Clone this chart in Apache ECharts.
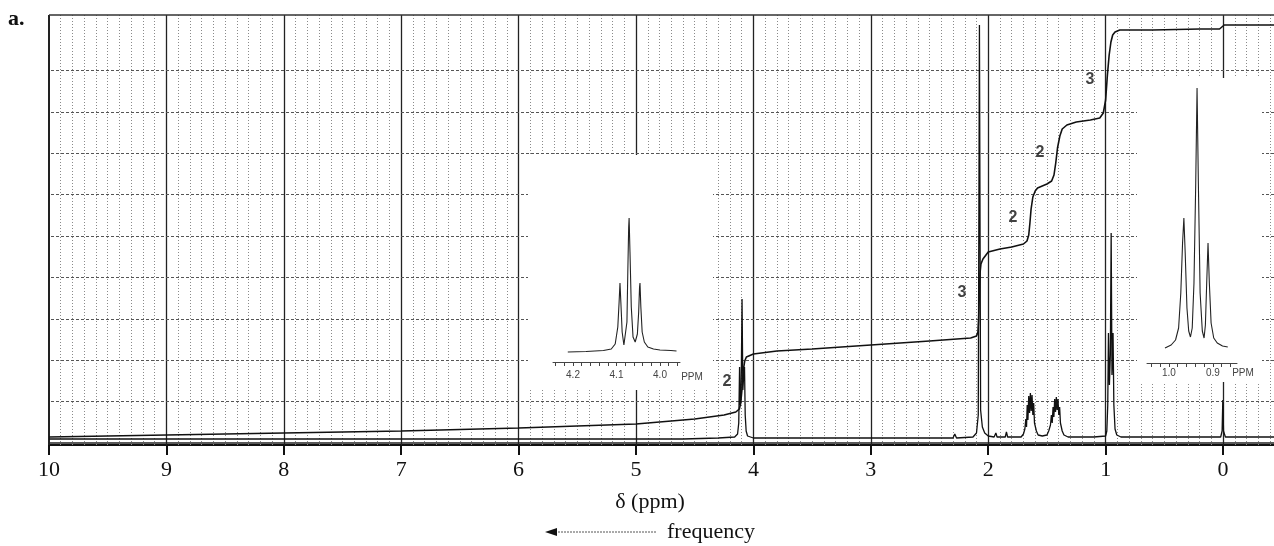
<!DOCTYPE html>
<html><head><meta charset="utf-8">
<script src="https://cdn.jsdelivr.net/npm/echarts@6/dist/echarts.min.js"></script>
<style>html,body{margin:0;padding:0;background:#fff}#c{width:1274px;height:546px}</style>
</head><body><div id="c"></div>
<script>
// ---- data (ppm, signal height) ----
const tickLabels = [10, 9, 8, 7, 6, 5, 4, 3, 2, 1, 0];

const spectrum = [
  [10.0, 6], [8.0, 6], [6.0, 6], [4.6, 6], [4.3, 7], [4.16, 8], [4.135, 11], [4.125, 22],
  [4.118, 78], [4.112, 40], [4.104, 60], [4.097, 146], [4.09, 55], [4.083, 70], [4.076, 78],
  [4.07, 30], [4.062, 14], [4.05, 9], [4.0, 7], [3.5, 7], [2.30, 7], [2.285, 11], [2.27, 7],
  [2.13, 8], [2.1, 12], [2.085, 30], [2.075, 420], [2.065, 35], [2.05, 18], [2.03, 12],
  [2.0, 9], [1.95, 8], [1.935, 12], [1.925, 8], [1.855, 8], [1.845, 13], [1.835, 8],
  [1.72, 8], [1.70, 11], [1.688, 16], [1.68, 26], [1.674, 18], [1.668, 40], [1.662, 25],
  [1.655, 49], [1.648, 32], [1.641, 52], [1.634, 34], [1.627, 50], [1.62, 30], [1.613, 42],
  [1.606, 22], [1.598, 24], [1.59, 14], [1.575, 10], [1.54, 9], [1.50, 10], [1.485, 14],
  [1.47, 20], [1.462, 30], [1.455, 22], [1.448, 38], [1.441, 28], [1.434, 46], [1.427, 33],
  [1.42, 48], [1.413, 35], [1.406, 46], [1.399, 30], [1.392, 38], [1.385, 22], [1.378, 24],
  [1.37, 14], [1.355, 10], [1.32, 8], [1.1, 8], [1.0, 9], [0.99, 14], [0.982, 40],
  [0.976, 112], [0.968, 60], [0.96, 90], [0.953, 212], [0.946, 70], [0.937, 112], [0.93, 40],
  [0.92, 16], [0.905, 10], [0.87, 8], [0.5, 8], [0.02, 8], [0.008, 14], [0.002, 45],
  [-0.004, 14], [-0.02, 8], [-0.434, 8]
];

const integral = [
  [10.0, 8], [9.0, 10], [8.0, 12], [7.0, 14], [6.0, 17], [5.0, 21], [4.5, 26], [4.25, 30],
  [4.15, 33], [4.12, 36], [4.108, 42], [4.098, 55], [4.09, 68], [4.082, 78], [4.074, 84],
  [4.06, 88], [4.0, 91], [3.8, 94], [3.5, 96], [3.0, 100], [2.5, 104], [2.15, 107], [2.1, 109],
  [2.088, 113], [2.082, 125], [2.076, 150], [2.07, 172], [2.062, 181], [2.045, 186], [2.0, 193],
  [1.9, 196], [1.8, 198], [1.7, 201], [1.67, 204], [1.655, 210], [1.645, 222], [1.635, 236],
  [1.62, 248], [1.6, 254], [1.58, 257], [1.5, 261], [1.46, 264], [1.44, 270], [1.425, 282],
  [1.41, 297], [1.39, 309], [1.37, 316], [1.33, 320], [1.25, 323], [1.13, 325], [1.05, 327],
  [1.02, 332], [1.0, 345], [0.985, 370], [0.97, 390], [0.955, 403], [0.94, 410], [0.92, 413],
  [0.88, 415], [0.6, 415], [0.2, 416], [0.03, 416], [0.01, 418], [-0.01, 420], [-0.434, 420]
];

const integralText = ['2', '3', '2', '2', '3'];
const integralTextAt = [[4.225, 63], [2.223, 152], [1.789, 227], [1.559, 292], [1.133, 365]];

// inset a: expansion of 4.07 ppm triplet
const insetA = [
  [4.212, 10], [4.17, 10.5], [4.13, 11.5], [4.112, 13], [4.103, 18], [4.097, 35], [4.094, 60],
  [4.092, 79], [4.090, 60], [4.087, 30], [4.083, 17], [4.079, 18], [4.076, 40], [4.074, 90],
  [4.072, 135], [4.071, 144], [4.069, 110], [4.066, 55], [4.062, 25], [4.057, 20], [4.052, 28],
  [4.049, 50], [4.047, 75], [4.046, 79], [4.044, 55], [4.041, 30], [4.036, 20], [4.028, 15],
  [4.015, 13], [4.0, 12], [3.975, 11.5], [3.962, 11]
];
const insetATicks = [4.2, 4.1, 4.0];

// inset b: expansion of 0.93 ppm triplet
const insetB = [
  [1.009, 15], [0.995, 18], [0.985, 23], [0.978, 35], [0.973, 70], [0.969, 120], [0.966, 145],
  [0.963, 110], [0.959, 55], [0.955, 32], [0.951, 26], [0.947, 35], [0.943, 80], [0.939, 180],
  [0.936, 275], [0.933, 180], [0.929, 70], [0.924, 32], [0.92, 25], [0.917, 38], [0.914, 80],
  [0.911, 120], [0.908, 80], [0.904, 40], [0.898, 25], [0.89, 20], [0.878, 17], [0.866, 16]
];
const insetBTicks = [1.0, 0.9];

// ---- chart-paper grid lines (style only) ----
const gridLines = [];
for (let i = -4; i <= 100; i++) {
  const v = i / 10;
  if (i % 10 === 0) {
    gridLines.push({ xAxis: v, lineStyle: { color: '#222', width: i === 100 ? 2 : 1.3, type: 'solid' } });
  } else {
    gridLines.push({ xAxis: v, lineStyle: { color: '#8a8a8a', width: 1, type: [1, 2] } });
  }
}
for (let k = 0; k <= 9; k++) {
  gridLines.push({ yAxis: 2 + 41.4 * k, lineStyle: { color: k === 0 ? '#222' : '#555', width: k === 0 ? 1.5 : 1.1, type: k === 0 ? 'solid' : [3, 2] } });
}
gridLines.push({ yAxis: 430, lineStyle: { color: '#333', width: 1.6, type: 'solid' } });

function steps(a, b, s) {
  const out = [];
  for (let v = a; v <= b + 1e-9; v += s) out.push(+v.toFixed(2));
  return out;
}

const serif = '"Liberation Serif", "DejaVu Serif", serif';
const sans = '"Liberation Sans", Arial, sans-serif';

const chart = echarts.init(document.getElementById('c'));
chart.setOption({
  animation: false,
  backgroundColor: '#fff',
  grid: [
    { left: 49, right: 0, top: 15, bottom: 101 },
    { left: 553, width: 127, top: 155, height: 207 },
    { left: 1147, width: 90, top: 78, height: 285 }
  ],
  xAxis: [
    {
      type: 'value', gridIndex: 0, min: -0.434, max: 10, inverse: true,
      axisLine: { show: true, onZero: false, lineStyle: { color: '#111', width: 2 } },
      axisTick: { show: true, customValues: tickLabels, length: 10, lineStyle: { color: '#111', width: 2 } },
      axisLabel: { show: true, customValues: tickLabels, margin: 14, fontSize: 22, fontFamily: serif, color: '#111' },
      splitLine: { show: false }
    },
    {
      type: 'value', gridIndex: 1, min: 3.954, max: 4.246, inverse: true, z: 10,
      axisLine: { show: true, onZero: false, lineStyle: { color: '#444', width: 1 } },
      axisTick: { show: true, customValues: steps(3.96, 4.24, 0.02), length: 4, lineStyle: { color: '#444' } },
      axisLabel: { show: true, customValues: insetATicks, margin: 8, fontSize: 10, fontFamily: sans, color: '#444', formatter: v => v.toFixed(1) },
      splitLine: { show: false }
    },
    {
      type: 'value', gridIndex: 2, min: 0.845, max: 1.05, inverse: true, z: 10,
      axisLine: { show: true, onZero: false, lineStyle: { color: '#444', width: 1 } },
      axisTick: { show: true, customValues: steps(0.86, 1.04, 0.02), length: 4, lineStyle: { color: '#444' } },
      axisLabel: { show: true, customValues: insetBTicks, margin: 5, fontSize: 10, fontFamily: sans, color: '#444', formatter: v => v.toFixed(1) },
      splitLine: { show: false }
    }
  ],
  yAxis: [
    { type: 'value', gridIndex: 0, min: 0, max: 430, z: 10,
      axisLine: { show: false, onZero: false },
      axisTick: { show: false }, axisLabel: { show: false }, splitLine: { show: false } },
    { type: 'value', gridIndex: 1, min: 0, max: 207, show: false },
    { type: 'value', gridIndex: 2, min: 0, max: 285, show: false }
  ],
  graphic: [
    { type: 'rect', z: 3, shape: { x: 528, y: 155, width: 185, height: 235 }, style: { fill: '#fff' } },
    { type: 'rect', z: 3, shape: { x: 1137, y: 78, width: 125, height: 304 }, style: { fill: '#fff' } },
    { type: 'text', z: 20, x: 8, y: 8, style: { text: 'a.', font: 'bold 22px ' + serif, fill: '#111' } },
    { type: 'text', z: 20, x: 650, y: 502, style: { text: 'δ (ppm)', font: '22px ' + serif, fill: '#111', align: 'center', verticalAlign: 'middle', textAlign: 'center', textVerticalAlign: 'middle' } },
    { type: 'text', z: 20, x: 667, y: 532, style: { text: 'frequency', font: '22px ' + serif, fill: '#111', align: 'left', verticalAlign: 'middle', textAlign: 'left', textVerticalAlign: 'middle' } },
    { type: 'line', z: 20, shape: { x1: 552, y1: 532, x2: 657, y2: 532 }, style: { stroke: '#555', lineWidth: 1, lineDash: [2, 1] } },
    { type: 'polygon', z: 20, shape: { points: [[545, 532], [557, 528], [557, 536]] }, style: { fill: '#111' } },
    { type: 'text', z: 20, x: 692, y: 377, style: { text: 'PPM', font: '10px ' + sans, fill: '#444', align: 'center', verticalAlign: 'middle', textAlign: 'center', textVerticalAlign: 'middle' } },
    { type: 'text', z: 20, x: 1243, y: 373, style: { text: 'PPM', font: '10px ' + sans, fill: '#444', align: 'center', verticalAlign: 'middle', textAlign: 'center', textVerticalAlign: 'middle' } }
  ],
  series: [
    {
      type: 'line', xAxisIndex: 0, yAxisIndex: 0, z: 1, silent: true,
      data: [[5, 0]], showSymbol: false, lineStyle: { width: 0 },
      markLine: { z: 1, silent: true, symbol: ['none', 'none'], label: { show: false }, animation: false, data: gridLines }
    },
    {
      name: 'spectrum', type: 'line', xAxisIndex: 0, yAxisIndex: 0, z: 10, data: spectrum,
      showSymbol: false, sampling: null, lineStyle: { color: '#111', width: 1.3 }
    },
    {
      name: 'integral', type: 'line', xAxisIndex: 0, yAxisIndex: 0, z: 10, data: integral,
      showSymbol: false, lineStyle: { color: '#111', width: 1.6 }
    },
    {
      name: 'integral labels', type: 'scatter', xAxisIndex: 0, yAxisIndex: 0, z: 11, symbolSize: 0,
      data: integralTextAt.map((p, i) => ({ value: p, label: { formatter: integralText[i] } })),
      label: { show: true, position: 'inside', fontSize: 16, fontWeight: 'bold', fontFamily: sans, color: '#111' }
    },
    {
      name: 'inset 4.07', type: 'line', xAxisIndex: 1, yAxisIndex: 1, z: 12, data: insetA,
      showSymbol: false, lineStyle: { color: '#222', width: 1.1 }
    },
    {
      name: 'inset 0.93', type: 'line', xAxisIndex: 2, yAxisIndex: 2, z: 12, data: insetB,
      showSymbol: false, lineStyle: { color: '#222', width: 1.1 }
    }
  ]
});
</script></body></html>
